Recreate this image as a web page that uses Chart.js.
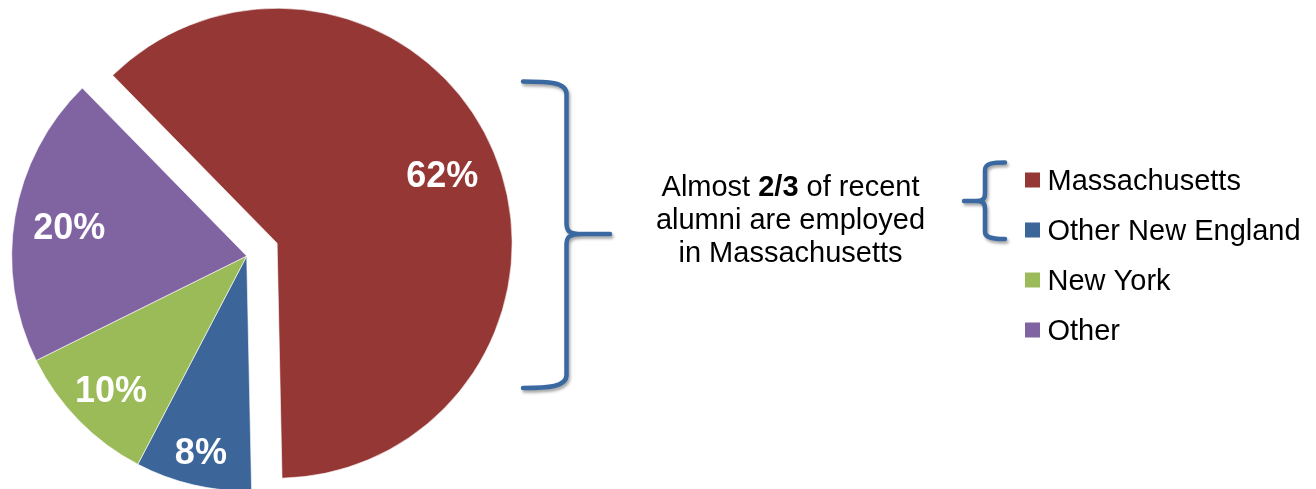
<!DOCTYPE html>
<html>
<head>
<meta charset="utf-8">
<script src="https://cdn.jsdelivr.net/npm/chart.js@4/dist/chart.umd.min.js"></script>
<style>
  html, body { margin: 0; padding: 0; background: #ffffff; overflow: hidden; }
  #wrap { position: absolute; left: 0; top: 0; width: 1316px; height: 512px; }
</style>
</head>
<body>
<div id="wrap"><canvas id="c"></canvas></div>
<script>
// ---- data ----
const categories = ['Massachusetts', 'Other New England', 'New York', 'Other'];
const shares = [62, 8, 10, 20];
const shareLabels = ['62%', '8%', '10%', '20%'];
const noteLines = [['Almost ', '2/3', ' of recent'], ['alumni are employed'], ['in Massachusetts']];

// ---- style ----
const palette = ['#953735', '#3C6699', '#9BBB59', '#8064A2'];
const FONT = '"Liberation Sans", Arial, Helvetica, sans-serif';
const explodeDist = [33, 0, 0, 0];
const labelRadial = [0.762, 0.854, 0.808, 0.766];
const braceColor = '#3A69A2';

const explodePlugin = {
  id: 'explode',
  beforeDatasetDraw(chart, args) {
    const ctx = chart.ctx;
    args.meta.data.forEach((arc, i) => {
      ctx.save();
      const d = explodeDist[i] || 0;
      if (d) {
        const mid = (arc.startAngle + arc.endAngle) / 2;
        ctx.translate(Math.cos(mid) * d, Math.sin(mid) * d);
      }
      arc.draw(ctx, chart.chartArea);
      ctx.restore();
    });
    return false;
  },
  afterDatasetsDraw(chart) {
    const ctx = chart.ctx;
    const meta = chart.getDatasetMeta(0);
    ctx.save();
    ctx.fillStyle = '#ffffff';
    ctx.font = 'bold 36px ' + FONT;
    ctx.textAlign = 'center';
    ctx.textBaseline = 'alphabetic';
    meta.data.forEach((arc, i) => {
      const mid = (arc.startAngle + arc.endAngle) / 2;
      const r = (explodeDist[i] || 0) + arc.outerRadius * labelRadial[i];
      const x = arc.x + Math.cos(mid) * r;
      const y = arc.y + Math.sin(mid) * r;
      ctx.fillText(shareLabels[i], x, y + 13);
    });
    ctx.restore();
  }
};

function brace(ctx, pts) {
  ctx.save();
  ctx.strokeStyle = braceColor;
  ctx.lineWidth = 4.5;
  ctx.lineCap = 'round';
  ctx.lineJoin = 'round';
  ctx.shadowColor = 'rgba(0,0,0,0.35)';
  ctx.shadowBlur = 3;
  ctx.shadowOffsetX = 1.5;
  ctx.shadowOffsetY = 2.5;
  ctx.beginPath();
  pts(ctx);
  ctx.stroke();
  ctx.restore();
}

const decorPlugin = {
  id: 'decor',
  afterDraw(chart) {
    const ctx = chart.ctx;
    // big right-facing brace
    brace(ctx, (c) => {
      c.moveTo(523, 81.5);
      c.bezierCurveTo(548, 81.5, 566.5, 82, 566.5, 94);
      c.lineTo(566.5, 223);
      c.bezierCurveTo(566.5, 231, 569, 234, 582, 234);
      c.lineTo(610, 234);
      c.moveTo(582, 234);
      c.bezierCurveTo(569, 234, 566.5, 237, 566.5, 245);
      c.lineTo(566.5, 375);
      c.bezierCurveTo(566.5, 387, 548, 388, 523, 388);
    });
    // small left-facing brace
    brace(ctx, (c) => {
      c.moveTo(1005, 162.5);
      c.bezierCurveTo(994, 162.5, 985, 163, 985, 170);
      c.lineTo(985, 193);
      c.bezierCurveTo(985, 199, 983, 201, 976, 201);
      c.lineTo(964, 201);
      c.moveTo(976, 201);
      c.bezierCurveTo(983, 201, 985, 203, 985, 209);
      c.lineTo(985, 232);
      c.bezierCurveTo(985, 238, 994, 239, 1005, 239);
    });

    // annotation text
    ctx.save();
    ctx.fillStyle = '#000000';
    ctx.textBaseline = 'alphabetic';
    ctx.textAlign = 'left';
    const cx = 790.5;
    const baselines = [195.7, 228.5, 261.5];
    noteLines.forEach((parts, li) => {
      const fonts = parts.map((p, k) => (parts.length === 3 && k === 1 ? 'bold ' : '') + '29px ' + FONT);
      let total = 0;
      const widths = parts.map((p, k) => { ctx.font = fonts[k]; const w = ctx.measureText(p).width; total += w; return w; });
      let x = cx - total / 2;
      parts.forEach((p, k) => { ctx.font = fonts[k]; ctx.fillText(p, x, baselines[li]); x += widths[k]; });
    });

    // legend
    const legY = [180, 230, 280, 330];
    ctx.font = '29px ' + FONT;
    categories.forEach((name, i) => {
      ctx.fillStyle = palette[i];
      ctx.fillRect(1025, legY[i] - 7.5, 15, 15);
      ctx.fillStyle = '#000000';
      ctx.fillText(name, 1047.5, legY[i] + 10);
    });
    ctx.restore();
  }
};

new Chart(document.getElementById('c'), {
  type: 'pie',
  data: {
    labels: categories,
    datasets: [{
      data: shares,
      backgroundColor: palette,
      borderColor: 'rgba(255,255,255,0.6)',
      borderWidth: 1
    }]
  },
  options: {
    responsive: true,
    maintainAspectRatio: false,
    animation: false,
    rotation: -44.4,
    radius: 235,
    layout: { padding: { left: 0, right: 822.6, top: 0, bottom: 0 } },
    plugins: {
      legend: { display: false },
      tooltip: { enabled: false },
      title: { display: false }
    },
    events: []
  },
  plugins: [explodePlugin, decorPlugin]
});
</script>
</body>
</html>
